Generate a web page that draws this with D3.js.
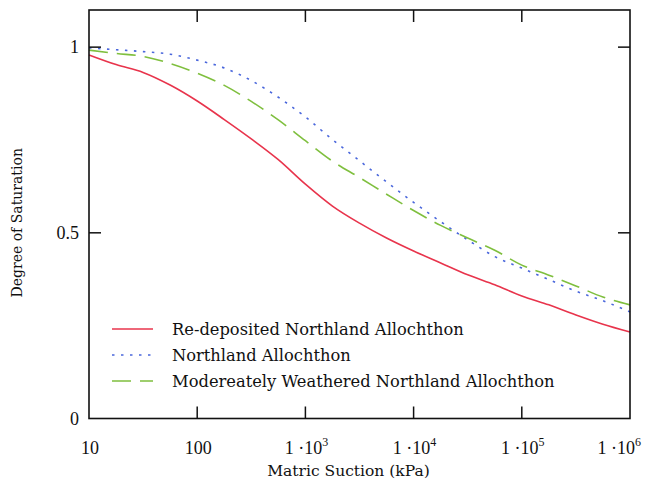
<!DOCTYPE html>
<html>
<head>
<meta charset="utf-8">
<script src="https://cdn.jsdelivr.net/npm/d3@7"></script>
<style>
  body { margin: 0; background: #fff; }
  text { font-family: "DejaVu Serif", serif; fill: #111; }
  text.tick { font-family: "Liberation Serif", "Times New Roman", serif; }
</style>
</head>
<body>
<div id="chart"></div>
<script>
// matric suction (kPa), sampled every quarter decade
var suction = [10, 17.8, 31.6, 56.2, 100, 178, 316, 562, 1000, 1778, 3162, 5623,
    10000, 17783, 31623, 56234, 100000, 177828, 316228, 562341, 1000000];

var redeposited = [0.979, 0.953, 0.932, 0.898, 0.855, 0.805, 0.753, 0.697, 0.631, 0.572, 0.526,
    0.486, 0.451, 0.419, 0.387, 0.360, 0.330, 0.306, 0.279, 0.254, 0.233];
var northland = [0.998, 0.993, 0.988, 0.981, 0.965, 0.944, 0.910, 0.865, 0.812, 0.751, 0.694,
    0.637, 0.582, 0.530, 0.481, 0.436, 0.405, 0.374, 0.343, 0.317, 0.287];
var weathered = [0.992, 0.983, 0.975, 0.956, 0.930, 0.897, 0.854, 0.804, 0.748, 0.693, 0.649,
    0.604, 0.560, 0.520, 0.486, 0.453, 0.413, 0.386, 0.357, 0.327, 0.306];

var seriesNames = ["Re-deposited Northland Allochthon", "Northland Allochthon",
    "Modereately Weathered Northland Allochthon"];
var xTicks = [10, 100, 1e3, 1e4, 1e5, 1e6];
var yTicks = [0, 0.5, 1];

var margin = { top: 10, right: 20, bottom: 63.5, left: 89 },
    width = 650 - margin.left - margin.right,
    height = 482 - margin.top - margin.bottom;

var svg = d3.select("#chart")
    .append("svg")
    .attr("width", 650)
    .attr("height", 482)
    .append("g")
    .attr("transform", "translate(" + margin.left + "," + margin.top + ")");

var x = d3.scaleLog().domain([10, 1e6]).range([0, width]);
var y = d3.scaleLinear().domain([0, 1.1]).range([height, 0]);

var series = [
    { name: seriesNames[0], values: redeposited, color: "#e8344c", dash: null },
    { name: seriesNames[1], values: northland, color: "#4a67dc", dash: "2.5,6.5" },
    { name: seriesNames[2], values: weathered, color: "#7fbf3e", dash: "19,9" }
];

var line = d3.line()
    .x(function(d) { return x(d[0]) })
    .y(function(d) { return y(d[1]) })
    .curve(d3.curveMonotoneX);

series.forEach(function(s) {
    svg.append("path")
        .datum(suction.map(function(v, i) { return [v, s.values[i]] }))
        .attr("d", line)
        .attr("fill", "none")
        .attr("stroke", s.color)
        .attr("stroke-width", 1.6)
        .attr("stroke-dasharray", s.dash);
});

// frame
svg.append("rect")
    .attr("width", width)
    .attr("height", height)
    .attr("fill", "none")
    .attr("stroke", "#111")
    .attr("stroke-width", 1.6);

// inner ticks on all four sides
var tickLen = 12;
xTicks.slice(1, -1).forEach(function(t) {
    svg.append("line").attr("x1", x(t)).attr("x2", x(t)).attr("y1", height).attr("y2", height - tickLen)
        .attr("stroke", "#111").attr("stroke-width", 1.5);
    svg.append("line").attr("x1", x(t)).attr("x2", x(t)).attr("y1", 0).attr("y2", tickLen)
        .attr("stroke", "#111").attr("stroke-width", 1.5);
});
yTicks.slice(1).forEach(function(t) {
    svg.append("line").attr("x1", 0).attr("x2", tickLen).attr("y1", y(t)).attr("y2", y(t))
        .attr("stroke", "#111").attr("stroke-width", 1.5);
    svg.append("line").attr("x1", width).attr("x2", width - tickLen).attr("y1", y(t)).attr("y2", y(t))
        .attr("stroke", "#111").attr("stroke-width", 1.5);
});

// x tick labels (last one pulled in so it stays on the page)
xTicks.forEach(function(t, i) {
    var last = i == xTicks.length - 1;
    var txt = svg.append("text")
        .attr("class", "tick")
        .attr("x", last ? width + 11 : x(t) + 1)
        .attr("y", height + 35)
        .attr("text-anchor", last ? "end" : "middle")
        .style("font-size", "18px");
    var e = Math.round(Math.log10(t));
    if (e <= 2) {
        txt.text(t);
    } else {
        txt.append("tspan").text("1 \u00b710");
        txt.append("tspan").attr("dy", -8).style("font-size", "12px").text(e);
    }
});

// y tick labels
yTicks.forEach(function(t) {
    svg.append("text")
        .attr("class", "tick")
        .attr("x", -10)
        .attr("y", y(t) + 6)
        .attr("text-anchor", "end")
        .style("font-size", "18px")
        .text(t);
});

// axis titles
svg.append("text")
    .attr("x", width / 2 - 11)
    .attr("y", height + 57)
    .attr("text-anchor", "middle")
    .style("font-size", "15.5px")
    .text("Matric Suction (kPa)");

svg.append("text")
    .attr("transform", "translate(-67," + (y(0.5) - 10) + ") rotate(-90)")
    .attr("text-anchor", "middle")
    .style("font-size", "14px")
    .text("Degree of Saturation");

// legend
series.forEach(function(s, i) {
    var ly = 319 + i * 26;
    svg.append("line")
        .attr("x1", 23).attr("x2", 64)
        .attr("y1", ly).attr("y2", ly)
        .attr("stroke", s.color)
        .attr("stroke-width", 1.4)
        .attr("stroke-dasharray", s.dash);
    svg.append("text")
        .attr("x", 83)
        .attr("y", ly + 6)
        .style("font-size", "16.3px")
        .text(s.name);
});
</script>
</body>
</html>
